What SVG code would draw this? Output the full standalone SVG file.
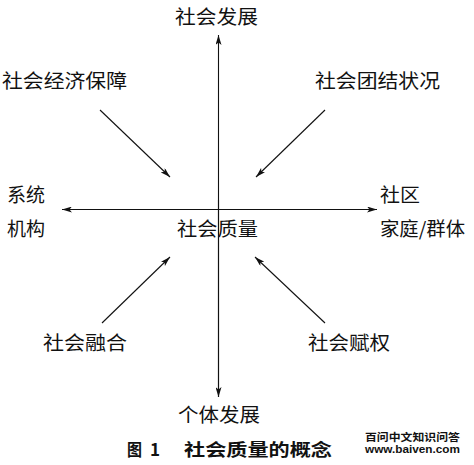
<svg xmlns="http://www.w3.org/2000/svg" width="474" height="465" viewBox="0 0 474 465">
<defs>
<marker id="ah" viewBox="0 0 10 6" refX="10" refY="3" markerWidth="10" markerHeight="6" markerUnits="userSpaceOnUse" orient="auto-start-reverse">
<path d="M0,0 L10,3 L0,6 L2.5,3 Z" fill="#111"/>
</marker>
<style>
.lbl{font-family:"Noto Sans CJK SC","Noto Sans",sans-serif;font-size:19px;fill:#111}
.cap{font-family:"Noto Sans CJK SC","Liberation Serif",serif;font-size:17px;font-weight:bold;fill:#111}
.wm{font-family:"Liberation Sans","Noto Sans CJK SC",sans-serif;font-weight:bold;fill:#111}
.ln{stroke:#111;stroke-width:1.1;fill:none}
</style>
</defs>
<rect width="474" height="465" fill="#fff"/>
<g id="connectors">
<line class="ln" x1="218.5" y1="397" x2="218.5" y2="35" marker-end="url(#ah)"/>
<line class="ln" x1="218.5" y1="200" x2="218.5" y2="397" marker-end="url(#ah)"/>
<line class="ln" x1="218.5" y1="209.5" x2="62" y2="209.5" marker-end="url(#ah)"/>
<line class="ln" x1="218.5" y1="209.5" x2="377" y2="209.5" marker-end="url(#ah)"/>
<line class="ln" x1="100" y1="110" x2="170" y2="177" marker-end="url(#ah)"/>
<line class="ln" x1="325" y1="110" x2="256" y2="177" marker-end="url(#ah)"/>
<line class="ln" x1="102" y1="323" x2="170" y2="257" marker-end="url(#ah)"/>
<line class="ln" x1="325" y1="323" x2="255" y2="257" marker-end="url(#ah)"/>
</g>
<g id="n-top"><text class="lbl" x="175" y="24" textLength="83" lengthAdjust="spacingAndGlyphs">社会发展</text></g>
<g id="n-econ"><text class="lbl" x="2" y="88" textLength="125" lengthAdjust="spacingAndGlyphs">社会经济保障</text></g>
<g id="n-cohesion"><text class="lbl" x="315" y="88" textLength="125" lengthAdjust="spacingAndGlyphs">社会团结状况</text></g>
<g id="n-system"><text class="lbl" x="7" y="202" textLength="38" lengthAdjust="spacingAndGlyphs">系统</text><text class="lbl" x="7" y="236" textLength="38" lengthAdjust="spacingAndGlyphs">机构</text></g>
<g id="n-community"><text class="lbl" x="380" y="202" textLength="40" lengthAdjust="spacingAndGlyphs">社区</text><text class="lbl" x="380" y="236" textLength="85" lengthAdjust="spacingAndGlyphs">家庭/群体</text></g>
<g id="n-center"><text class="lbl" x="177" y="236" textLength="81" lengthAdjust="spacingAndGlyphs">社会质量</text></g>
<g id="n-inclusion"><text class="lbl" x="43" y="350" textLength="84" lengthAdjust="spacingAndGlyphs">社会融合</text></g>
<g id="n-empower"><text class="lbl" x="308" y="350" textLength="82" lengthAdjust="spacingAndGlyphs">社会赋权</text></g>
<g id="n-bottom"><text class="lbl" x="178" y="422" textLength="82" lengthAdjust="spacingAndGlyphs">个体发展</text></g>
<g id="caption">
<text class="cap" x="127" y="456" textLength="15" lengthAdjust="spacingAndGlyphs">图</text>
<text class="cap" x="150" y="456" font-family="Liberation Serif">1</text>
<text class="cap" x="184" y="456" textLength="148" lengthAdjust="spacingAndGlyphs">社会质量的概念</text>
</g>
<g id="watermark">
<text class="wm" x="365" y="441" font-size="10.5" textLength="95" lengthAdjust="spacingAndGlyphs">百问中文知识问答</text>
<text class="wm" x="365" y="453" font-size="10.5" textLength="95" lengthAdjust="spacingAndGlyphs">www.baiven.com</text>
</g>
</svg>
